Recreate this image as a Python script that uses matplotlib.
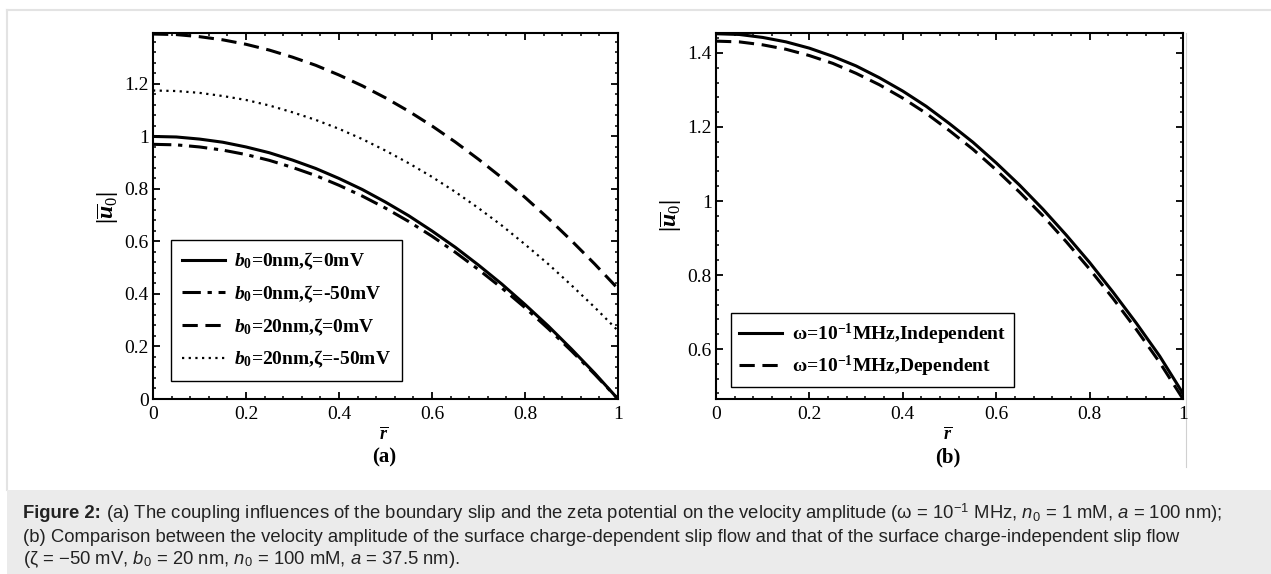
"""Velocity amplitude profiles, figure 2 (a) and (b)."""

import matplotlib

matplotlib.use("Agg")
import matplotlib.pyplot as plt
from matplotlib.lines import Line2D
from matplotlib.patches import Rectangle
from matplotlib.ticker import MultipleLocator

# --- data ----------------------------------------------------------------------------------------

r_bar = [0.00, 0.05, 0.10, 0.15, 0.20, 0.25, 0.30, 0.35, 0.40, 0.45, 0.50,
         0.55, 0.60, 0.65, 0.70, 0.75, 0.80, 0.85, 0.90, 0.95, 1.00]

# (a) b0 / zeta combinations
u_b0_z0 = [1.000, 0.998, 0.990, 0.978, 0.960, 0.938, 0.910, 0.878, 0.840, 0.798, 0.750,
           0.698, 0.640, 0.578, 0.510, 0.438, 0.360, 0.278, 0.190, 0.098, 0.000]
u_b0_z50 = [0.970, 0.968, 0.960, 0.948, 0.931, 0.909, 0.882, 0.851, 0.814, 0.773, 0.727,
            0.676, 0.620, 0.559, 0.493, 0.423, 0.348, 0.268, 0.183, 0.094, 0.000]
u_b20_z0 = [1.390, 1.388, 1.380, 1.368, 1.351, 1.329, 1.302, 1.271, 1.234, 1.193, 1.147,
            1.096, 1.040, 0.979, 0.913, 0.843, 0.768, 0.688, 0.603, 0.514, 0.420]
u_b20_z50 = [1.175, 1.173, 1.166, 1.154, 1.139, 1.118, 1.092, 1.063, 1.029, 0.990, 0.946,
             0.898, 0.846, 0.789, 0.727, 0.661, 0.589, 0.514, 0.433, 0.349, 0.260]

# (b) surface charge independent / dependent slip
u_indep = [1.452, 1.450, 1.442, 1.430, 1.413, 1.391, 1.365, 1.333, 1.297, 1.256, 1.209,
           1.159, 1.103, 1.043, 0.978, 0.908, 0.834, 0.754, 0.670, 0.581, 0.480]
u_dep = [1.432, 1.430, 1.422, 1.410, 1.393, 1.372, 1.345, 1.314, 1.278, 1.237, 1.190,
         1.140, 1.084, 1.024, 0.960, 0.890, 0.816, 0.737, 0.653, 0.564, 0.465]

labels_a = [
    r"$b_{\mathrm{0}}$=0nm,ζ=0mV",
    r"$b_{\mathrm{0}}$=0nm,ζ=-50mV",
    r"$b_{\mathrm{0}}$=20nm,ζ=0mV",
    r"$b_{\mathrm{0}}$=20nm,ζ=-50mV",
]
labels_b = [
    r"ω=10$^{\mathrm{-1}}$MHz,Independent",
    r"ω=10$^{\mathrm{-1}}$MHz,Dependent",
]

caption_head = "Figure 2:"
caption = [
    r" (a) The coupling influences of the boundary slip and the zeta potential "
    r"on the velocity amplitude (ω = 10$^{\mathcal{-1}}$ MHz, $\mathtt{n}_{\mathcal{0}}$ = 1 mM, "
    r"$\mathtt{a}$ = 100 nm);",
    "(b) Comparison between the velocity amplitude of the surface charge-dependent slip flow "
    "and that of the surface charge-independent slip flow",
    r"(ζ = −50 mV, $\mathtt{b}_{\mathcal{0}}$ = 20 nm, $\mathtt{n}_{\mathcal{0}}$ = 100 mM, "
    r"$\mathtt{a}$ = 37.5 nm).",
]

# --- style ---------------------------------------------------------------------------------------

plt.rcParams["font.family"] = ["Liberation Serif", "DejaVu Serif"]
plt.rcParams["mathtext.fontset"] = "custom"
plt.rcParams["mathtext.it"] = "Liberation Serif:italic:bold"
plt.rcParams["mathtext.rm"] = "Liberation Serif:bold"
plt.rcParams["mathtext.sf"] = "Liberation Serif"
plt.rcParams["mathtext.bf"] = "Liberation Sans:bold"
plt.rcParams["mathtext.tt"] = "Liberation Sans:italic"
plt.rcParams["mathtext.cal"] = "Liberation Sans"

W, H = 1271, 574
CAP_SIZE = 13.3


def fx(px):
    return px / W


def fy(py):
    return 1 - py / H


def style_axes(ax):
    for s in ax.spines.values():
        s.set_linewidth(1.5)
    ax.tick_params(which="both", direction="in", top=True, right=True, labelsize=14)
    ax.tick_params(which="major", length=5, width=1.3, pad=5)
    ax.tick_params(axis="y", which="major", pad=3)
    ax.tick_params(which="minor", length=2.5, width=1.1)
    ax.xaxis.set_major_locator(MultipleLocator(0.2))
    ax.xaxis.set_minor_locator(MultipleLocator(0.04))
    ax.yaxis.set_major_locator(MultipleLocator(0.2))
    ax.yaxis.set_minor_locator(MultipleLocator(0.04))
    ax.xaxis.set_major_formatter(lambda v, p: f"{v:g}")
    ax.yaxis.set_major_formatter(lambda v, p: f"{v:g}")
    ax.set_xlim(0, 1)


fig = plt.figure(figsize=(W / 100, H / 100), dpi=100)

# page furniture: thin frame and caption box (kept behind everything else)
fig.add_artist(Line2D([fx(7), 1], [fy(10), fy(10)], color="#e3e3e3", lw=1.5, zorder=-5))
fig.add_artist(Line2D([fx(7), fx(7)], [fy(10), fy(490)], color="#e3e3e3", lw=1.5, zorder=-5))
fig.add_artist(Line2D([fx(1186), fx(1186)], [fy(33), fy(467)], color="#d0d0d0", lw=0.8,
                      zorder=-5))
fig.add_artist(Rectangle((fx(7), 0), 1 - fx(7), fy(490), color="#ebebeb", lw=0, zorder=-5))

ax_a = fig.add_axes([fx(153), fy(399), fx(618 - 153), (399 - 33) / H])
ax_b = fig.add_axes([fx(716), fy(399), fx(1183 - 716), (399 - 33) / H])

# --- (a) -----------------------------------------------------------------------------------------

ax_a.plot(r_bar, u_b0_z0, c="k", lw=2.2, ls="-", label=labels_a[0])
ax_a.plot(r_bar, u_b0_z50, c="k", lw=2.2, ls=(0, (6, 2.2, 1.4, 2.2)), label=labels_a[1])
ax_a.plot(r_bar, u_b20_z0, c="k", lw=2.2, ls=(0, (5, 2.5)), label=labels_a[2])
ax_a.plot(r_bar, u_b20_z50, c="k", lw=1.6, ls=(0, (1, 2)), label=labels_a[3])
style_axes(ax_a)
ax_a.set_ylim(0, 1.394)
leg = ax_a.legend(
    loc="lower left", bbox_to_anchor=(0.039, 0.049), borderaxespad=0,
    prop={"weight": "bold", "size": 14}, handlelength=2.2, handletextpad=0.5,
    labelspacing=0.58, borderpad=0.55, fancybox=False, framealpha=1, edgecolor="k",
)
leg.get_frame().set_linewidth(1.0)

# --- (b) -----------------------------------------------------------------------------------------

ax_b.plot(r_bar, u_indep, c="k", lw=2.2, ls="-", label=labels_b[0])
ax_b.plot(r_bar, u_dep, c="k", lw=2.2, ls=(0, (5, 2.5)), label=labels_b[1])
style_axes(ax_b)
ax_b.set_ylim(0.465, 1.454)
leg = ax_b.legend(
    loc="lower left", bbox_to_anchor=(0.032, 0.033), borderaxespad=0,
    prop={"weight": "bold", "size": 14}, handlelength=2.2, handletextpad=0.5,
    labelspacing=0.35, borderpad=0.42, fancybox=False, framealpha=1, edgecolor="k",
)
leg.get_frame().set_linewidth(1.0)

# --- labels --------------------------------------------------------------------------------------

ylabel = r"$|\overline{u}_{\mathsf{0}}|$"
fig.text(fx(108), fy(208), ylabel, rotation=90, ha="center", va="center", fontsize=17)
fig.text(fx(671), fy(216), ylabel, rotation=90, ha="center", va="center", fontsize=17)
for cx, tag in [(384, "(a)"), (948, "(b)")]:
    fig.text(fx(cx), fy(435), r"$\overline{r}$", ha="center", va="center", fontsize=13)
    fig.text(fx(cx), fy(457), tag, ha="center", va="center", fontsize=15, weight="bold")

head = fig.text(fx(23), fy(513), caption_head, ha="left", va="center", fontsize=CAP_SIZE,
                family="Liberation Sans", weight="bold", color="#222222")
ax_a.annotate(caption[0], xy=(1, 0.5), xycoords=head, ha="left", va="center",
              fontsize=CAP_SIZE, family="Liberation Sans", color="#222222",
              annotation_clip=False)
for line, y in zip(caption[1:], [537, 560]):
    fig.text(fx(23), fy(y), line, ha="left", va="center", fontsize=CAP_SIZE,
             family="Liberation Sans", color="#222222")

fig.savefig("out.png", dpi=100)
